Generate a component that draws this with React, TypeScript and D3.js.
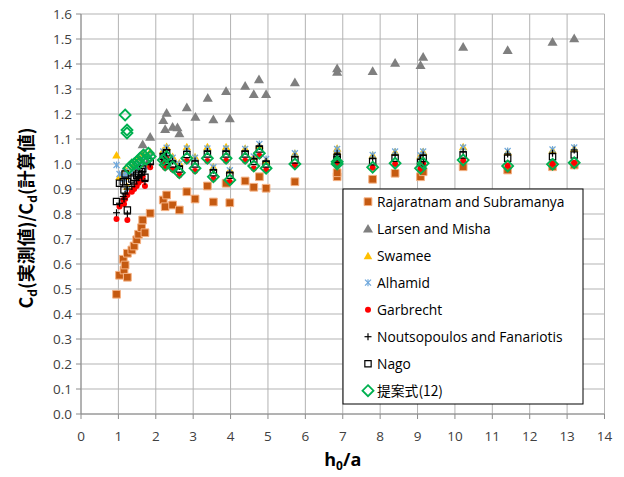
import React from "react";
import * as d3 from "d3";

// ---- data ----
const xTicks = [0, 1, 2, 3, 4, 5, 6, 7, 8, 9, 10, 11, 12, 13, 14];
const yTicks = [0, 0.1, 0.2, 0.3, 0.4, 0.5, 0.6, 0.7, 0.8, 0.9, 1.0, 1.1, 1.2, 1.3, 1.4, 1.5, 1.6];

// shared h0/a positions
const lowX = [0.95, 1.03, 1.13, 1.15, 1.18, 1.24, 1.24, 1.36, 1.42, 1.49, 1.54, 1.62, 1.65, 1.71, 1.85];
const highX = [2.2, 2.25, 2.29, 2.45, 2.63, 2.83, 3.05, 3.38, 3.54, 3.88, 3.98, 4.39, 4.62, 4.77, 4.95, 5.72, 6.85, 6.85, 7.8, 8.4, 9.08, 9.15, 10.22, 11.41, 12.61, 13.19];

const rajaratnamLow = [0.479, 0.555, 0.619, 0.576, 0.596, 0.547, 0.643, 0.656, 0.672, 0.697, 0.719, 0.745, 0.776, 0.725, 0.803];
const rajaratnamHigh = [0.856, 0.829, 0.876, 0.836, 0.816, 0.889, 0.86, 0.912, 0.848, 0.923, 0.845, 0.932, 0.907, 0.949, 0.903, 0.929, 0.949, 0.965, 0.939, 0.963, 0.949, 0.969, 0.989, 0.976, 0.989, 0.996];

const larsenX = [1.65, 1.85, 2.2, 2.25, 2.29, 2.45, 2.58, 2.63, 2.83, 3.06, 3.39, 3.54, 3.88, 3.98, 4.39, 4.62, 4.76, 4.95, 5.72, 6.85, 6.85, 7.8, 8.4, 9.08, 9.15, 10.22, 11.41, 12.61, 13.19];
const larsenY = [1.079, 1.109, 1.176, 1.14, 1.205, 1.149, 1.147, 1.123, 1.227, 1.189, 1.265, 1.179, 1.292, 1.183, 1.313, 1.28, 1.339, 1.28, 1.327, 1.383, 1.369, 1.372, 1.405, 1.396, 1.429, 1.469, 1.456, 1.489, 1.503];

const swameeLow = [1.036, 0.95, 0.96, 0.95, 0.98, 0.91, 0.97, 0.98, 1.0, 1.01, 1.02, 1.03, 1.04, 1.0, 1.05];
const swameeHigh = [1.055, 1.035, 1.07, 1.03, 1.005, 1.069, 1.029, 1.069, 0.989, 1.069, 0.976, 1.063, 1.03, 1.076, 1.016, 1.043, 1.063, 1.05, 1.036, 1.049, 1.035, 1.05, 1.069, 1.049, 1.056, 1.063];

const alhamidLow = [0.996, 0.96, 0.95, 0.94, 0.97, 0.9, 0.96, 0.97, 0.98, 0.99, 1.0, 1.01, 1.02, 0.99, 1.03];
const alhamidHigh = [1.05, 1.03, 1.065, 1.025, 1.0, 1.062, 1.025, 1.062, 0.987, 1.062, 0.975, 1.06, 1.03, 1.08, 1.02, 1.043, 1.06, 1.045, 1.036, 1.05, 1.035, 1.05, 1.066, 1.052, 1.058, 1.066];

const garbrechtLow = [0.78, 0.83, 0.856, 0.84, 0.86, 0.776, 0.876, 0.889, 0.9, 0.912, 0.925, 0.935, 0.95, 0.912, 0.987];
const garbrechtHigh = [1.005, 0.985, 1.02, 0.978, 0.955, 1.012, 0.972, 1.012, 0.94, 1.013, 0.928, 1.013, 0.982, 1.033, 0.975, 0.995, 1.005, 0.996, 0.985, 1.0, 0.98, 1.0, 1.014, 0.994, 1.001, 1.005];

const noutsLow = [0.805, 0.843, 0.87, 0.86, 0.88, 0.8, 0.9, 0.91, 0.92, 0.935, 0.945, 0.955, 0.97, 0.93, 1.0];
const noutsHigh = [1.04, 1.02, 1.055, 1.012, 0.99, 1.05, 1.012, 1.05, 0.975, 1.05, 0.965, 1.05, 1.02, 1.07, 1.01, 1.029, 1.043, 1.03, 1.023, 1.036, 1.02, 1.036, 1.049, 1.04, 1.043, 1.056];

const nagoLow = [0.85, 0.923, 0.929, 0.896, 0.96, 0.816, 0.93, 0.94, 0.947, 0.955, 0.963, 0.97, 0.98, 0.947, 1.01];
const nagoHigh = [1.03, 1.01, 1.045, 1.0, 0.98, 1.038, 1.0, 1.04, 0.965, 1.04, 0.955, 1.04, 1.01, 1.06, 1.0, 1.016, 1.025, 1.018, 1.009, 1.023, 1.005, 1.022, 1.036, 1.023, 1.029, 1.036];

const proposedLowX = [1.18, 1.23, 1.23, 1.28, 1.36, 1.42, 1.49, 1.54, 1.58, 1.67, 1.75, 1.8, 1.85];
const proposedLowY = [1.196, 1.136, 1.124, 0.983, 0.996, 1.0, 1.009, 1.0, 1.023, 1.036, 1.02, 1.043, 1.03];
const proposedHigh = [1.016, 0.996, 1.03, 0.989, 0.965, 1.023, 0.983, 1.023, 0.949, 1.023, 0.936, 1.023, 0.992, 1.043, 0.983, 1.0, 1.009, 1.0, 0.987, 1.003, 0.983, 1.003, 1.016, 0.992, 0.999, 1.005];

const seriesNames = [
  "Rajaratnam and Subramanya",
  "Larsen and Misha",
  "Swamee",
  "Alhamid",
  "Garbrecht",
  "Noutsopoulos and Fanariotis",
  "Nago",
  "提案式(12)",
];

type Pt = [number, number];
const zip = (xs: number[], ys: number[]): Pt[] => xs.map((x, i) => [x, ys[i]] as Pt);

const seriesData: Pt[][] = [
  [...zip(lowX, rajaratnamLow), ...zip(highX, rajaratnamHigh)],
  zip(larsenX, larsenY),
  [...zip(lowX, swameeLow), ...zip(highX, swameeHigh)],
  [...zip(lowX, alhamidLow), ...zip(highX, alhamidHigh)],
  [...zip(lowX, garbrechtLow), ...zip(highX, garbrechtHigh)],
  [...zip(lowX, noutsLow), ...zip(highX, noutsHigh)],
  [...zip(lowX, nagoLow), ...zip(highX, nagoHigh)],
  [...zip(proposedLowX, proposedLowY), ...zip(highX, proposedHigh)],
];

// ---- layout ----
const W = 624;
const H = 477;
const x = d3.scaleLinear().domain([0, 14]).range([81, 604.5]);
const y = d3.scaleLinear().domain([0, 1.6]).range([414, 14]);
const FONT = "'Open Sans', 'Liberation Sans', sans-serif";
const CJK = "'Noto Sans CJK JP', sans-serif";

const triPath = d3.symbol(d3.symbolTriangle, 44)()!;
const triSmall = d3.symbol(d3.symbolTriangle, 32)()!;
const sqPath = d3.symbol(d3.symbolSquare, 60)()!;
const sqSmall = d3.symbol(d3.symbolSquare, 40)()!;

function Marker({ kind, cx, cy }: { kind: number; cx: number; cy: number }) {
  const t = `translate(${cx},${cy})`;
  switch (kind) {
    case 0:
      return <path d={sqPath} transform={t} fill="#C55A11" stroke="#F4B183" strokeWidth={1} />;
    case 1:
      return <path d={triPath} transform={t + " translate(0,1)"} fill="#7F7F7F" />;
    case 2:
      return <path d={triSmall} transform={t + " translate(0,1)"} fill="#FFC000" />;
    case 3:
      return (
        <g transform={t} stroke="#6FA8DC" strokeWidth={1.2}>
          <line x1={0} y1={-3.5} x2={0} y2={3.5} />
          <line x1={-3} y1={-3} x2={3} y2={3} />
          <line x1={-3} y1={3} x2={3} y2={-3} />
        </g>
      );
    case 4:
      return <circle cx={cx} cy={cy} r={3} fill="#FF0000" />;
    case 5:
      return (
        <g transform={t} stroke="#000" strokeWidth={1.2}>
          <line x1={-3.5} y1={0} x2={3.5} y2={0} />
          <line x1={0} y1={-3.5} x2={0} y2={3.5} />
        </g>
      );
    case 6:
      return <path d={sqSmall} transform={t} fill="none" stroke="#000" strokeWidth={1.2} />;
    default:
      return (
        <path
          d="M0,-5.5L5.5,0L0,5.5L-5.5,0Z"
          transform={t}
          fill="none"
          stroke="#00B050"
          strokeWidth={1.8}
        />
      );
  }
}

export default function App() {
  const legendX = 343;
  const legendY = 189;
  const legendW = 240;
  const legendH = 215;
  return (
    <svg
      width={W}
      height={H}
      style={{ position: "absolute", left: 0, top: 0, background: "#fff" }}
      fontFamily={FONT}
    >
      {/* gridlines */}
      {yTicks.map((v) => (
        <line key={"gy" + v} x1={x(0)} x2={x(14)} y1={y(v)} y2={y(v)} stroke="#B3B3B3" strokeWidth={1} />
      ))}
      {xTicks.map((v) => (
        <line key={"gx" + v} x1={x(v)} x2={x(v)} y1={y(0)} y2={y(1.6)} stroke="#B3B3B3" strokeWidth={1} />
      ))}
      {/* axes */}
      <line x1={x(0)} x2={x(14)} y1={y(0)} y2={y(0)} stroke="#8C8C8C" />
      <line x1={x(0)} x2={x(0)} y1={y(0)} y2={y(1.6)} stroke="#8C8C8C" />
      {xTicks.map((v) => (
        <line key={"tx" + v} x1={x(v)} x2={x(v)} y1={y(0)} y2={y(0) + 5} stroke="#8C8C8C" />
      ))}
      {yTicks.map((v) => (
        <line key={"ty" + v} x1={x(0) - 5} x2={x(0)} y1={y(v)} y2={y(v)} stroke="#8C8C8C" />
      ))}
      {/* tick labels */}
      {xTicks.map((v) => (
        <text key={"lx" + v} x={x(v)} y={y(0) + 27} textAnchor="middle" fontSize={13.5} fill="#404040">
          {v}
        </text>
      ))}
      {yTicks.map((v) => (
        <text key={"ly" + v} x={x(0) - 9} y={y(v) + 4.5} textAnchor="end" fontSize={13.5} fill="#404040">
          {v.toFixed(1)}
        </text>
      ))}
      {/* axis titles */}
      <text x={x(7)} y={466} textAnchor="middle" fontSize={18} fontWeight="bold" fill="#000">
        h<tspan fontSize={12} dy={4}>0</tspan>
        <tspan dy={-4}>/a</tspan>
      </text>
      <text
        transform={`translate(33,218) rotate(-90)`}
        textAnchor="middle"
        fontSize={18}
        fontWeight="bold"
        fontFamily={CJK}
        fill="#000"
      >
        C<tspan fontSize={12} dy={4}>d</tspan>
        <tspan dy={-4}>(実測値)/C</tspan>
        <tspan fontSize={12} dy={4}>d</tspan>
        <tspan dy={-4}>(計算値)</tspan>
      </text>
      {/* data */}
      {seriesData.map((pts, si) => (
        <g key={"s" + si}>
          {pts.map((p, i) => (
            <Marker key={i} kind={si} cx={x(p[0])} cy={y(p[1])} />
          ))}
        </g>
      ))}
      {/* legend */}
      <rect x={legendX} y={legendY} width={legendW} height={legendH} fill="#fff" stroke="#000" strokeWidth={1} />
      {seriesNames.map((name, i) => {
        const cy = legendY + 12.7 + i * 27;
        return (
          <g key={"lg" + i}>
            <Marker kind={i} cx={368} cy={cy} />
            <text
              x={377}
              y={cy + 5}
              fontSize={13.8}
              fill="#000"
              fontFamily={i === 7 ? CJK : FONT}
            >
              {name}
            </text>
          </g>
        );
      })}
    </svg>
  );
}
